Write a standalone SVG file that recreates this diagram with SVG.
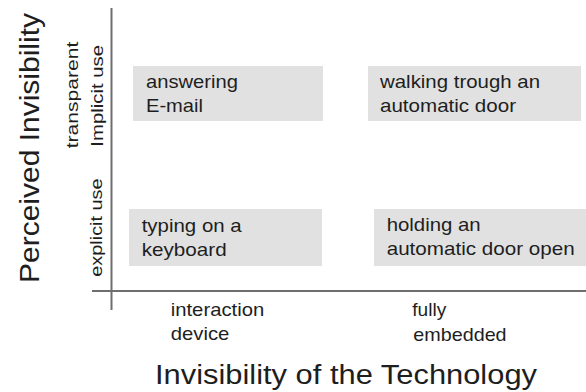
<svg xmlns="http://www.w3.org/2000/svg" width="586" height="392" viewBox="0 0 586 392">
<style>
text{font-family:"Liberation Sans",Arial,sans-serif;fill:#1e1e1e;}
.box{fill:#e1e1e1;}
.bt{font-size:19px;}
.ax{stroke:#6e6e6e;stroke-width:2;fill:none;}
.lab{font-size:19px;}
.sm{font-size:17px;}
.title{font-size:27px;}
</style>
<rect width="586" height="392" fill="#fff"/>
<g id="axes">
<line class="ax" x1="111.5" y1="8" x2="111.5" y2="310"/>
<line class="ax" x1="92" y1="291" x2="586" y2="291"/>
</g>
<g id="y-title">
<text class="title" transform="translate(39,283) rotate(-90)" textLength="270" lengthAdjust="spacingAndGlyphs">Perceived Invisibility</text>
</g>
<g id="y-labels">
<text class="sm" transform="translate(77.5,148.3) rotate(-90)" textLength="106.7" lengthAdjust="spacingAndGlyphs">transparent</text>
<text class="sm" transform="translate(102.5,146.7) rotate(-90)" textLength="101.7" lengthAdjust="spacingAndGlyphs">Implicit use</text>
<text class="sm" transform="translate(102,276.7) rotate(-90)" textLength="98.3" lengthAdjust="spacingAndGlyphs">explicit use</text>
</g>
<g id="node-email">
<rect class="box" x="133" y="66" width="190" height="55"/>
<text class="bt" x="146" y="88" textLength="92" lengthAdjust="spacingAndGlyphs">answering</text>
<text class="bt" x="146" y="112" textLength="57" lengthAdjust="spacingAndGlyphs">E-mail</text>
</g>
<g id="node-walking">
<rect class="box" x="368" y="66" width="213" height="55"/>
<text class="bt" x="380" y="88" textLength="160" lengthAdjust="spacingAndGlyphs">walking trough an</text>
<text class="bt" x="380" y="112" textLength="136" lengthAdjust="spacingAndGlyphs">automatic door</text>
</g>
<g id="node-typing">
<rect class="box" x="129" y="209" width="193" height="57"/>
<text class="bt" x="141.7" y="231.7" textLength="100" lengthAdjust="spacingAndGlyphs">typing on a</text>
<text class="bt" x="141.7" y="255.7" textLength="85" lengthAdjust="spacingAndGlyphs">keyboard</text>
</g>
<g id="node-holding">
<rect class="box" x="374" y="209" width="212" height="57"/>
<text class="bt" x="386.7" y="230.7" textLength="94" lengthAdjust="spacingAndGlyphs">holding an</text>
<text class="bt" x="386.7" y="254.5" textLength="188" lengthAdjust="spacingAndGlyphs">automatic door open</text>
</g>
<g id="x-labels">
<text class="lab" x="170.7" y="316" textLength="93.6" lengthAdjust="spacingAndGlyphs">interaction</text>
<text class="lab" x="170.7" y="340" textLength="58.7" lengthAdjust="spacingAndGlyphs">device</text>
<text class="lab" x="412.3" y="316" textLength="34" lengthAdjust="spacingAndGlyphs">fully</text>
<text class="lab" x="413.3" y="340.5" textLength="93.3" lengthAdjust="spacingAndGlyphs">embedded</text>
</g>
<g id="x-title">
<text class="title" x="155" y="384" textLength="382" lengthAdjust="spacingAndGlyphs">Invisibility of the Technology</text>
</g>
</svg>
